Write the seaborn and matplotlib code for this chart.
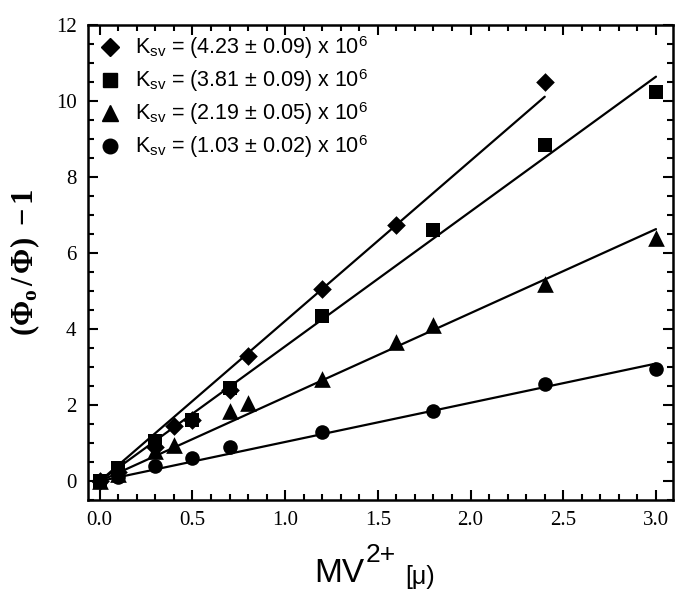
import numpy as np
import pandas as pd
import seaborn as sns
import matplotlib.pyplot as plt
from matplotlib.ticker import MultipleLocator

# concentration (x) and (Phi0/Phi)-1 (y) for each series
x_diamond = [0.0, 0.1, 0.3, 0.4, 0.5, 0.7, 0.8, 1.2, 1.6, 2.4]
y_diamond = [0.0, 0.25, 0.9, 1.45, 1.6, 2.4, 3.3, 5.05, 6.75, 10.5]

x_square = [0.0, 0.1, 0.3, 0.5, 0.7, 1.2, 1.8, 2.4, 3.0]
y_square = [0.0, 0.35, 1.05, 1.6, 2.45, 4.35, 6.6, 8.85, 10.25]

x_triangle = [0.0, 0.1, 0.3, 0.4, 0.7, 0.8, 1.2, 1.6, 1.8, 2.4, 3.0]
y_triangle = [0.0, 0.2, 0.8, 0.95, 1.85, 2.05, 2.7, 3.65, 4.1, 5.2, 6.4]

x_circle = [0.0, 0.1, 0.3, 0.5, 0.7, 1.2, 1.8, 2.4, 3.0]
y_circle = [0.0, 0.1, 0.4, 0.6, 0.9, 1.3, 1.85, 2.55, 2.95]

labels = ['4.23 ± 0.09', '3.81 ± 0.09', '2.19 ± 0.05', '1.03 ± 0.02']

sns.set_style('ticks')
plt.rcParams['mathtext.fontset'] = 'custom'
plt.rcParams['mathtext.rm'] = 'Liberation Serif'
plt.rcParams['mathtext.bf'] = 'Liberation Serif:bold'
plt.rcParams['mathtext.it'] = 'Liberation Serif:italic'
plt.rcParams['mathtext.sf'] = 'Liberation Sans'
plt.rcParams['font.family'] = ['Liberation Sans', 'DejaVu Sans']
for key in ['text.color', 'axes.labelcolor', 'xtick.color', 'ytick.color',
            'axes.edgecolor']:
    plt.rcParams[key] = 'black'

fig = plt.figure(figsize=(6.85, 5.99), dpi=100)
ax = fig.add_axes([0.128, 0.165, 0.854, 0.793])

series = [
    (x_diamond, y_diamond, 'D', 9.5),
    (x_square, y_square, 's', 9.5),
    (x_triangle, y_triangle, '^', 12),
    (x_circle, y_circle, 'o', 10.5),
]

handles = []
for (xs, ys, mk, ms), lab in zip(series, labels):
    df = pd.DataFrame({'x': xs, 'y': ys})
    # straight-line fit through the origin
    xa = np.array(xs)
    ya = np.array(ys)
    k = (xa * ya).sum() / (xa * xa).sum()
    fit = pd.DataFrame({'x': [0.0, xa.max()], 'y': [0.0, k * xa.max()]})
    sns.lineplot(data=fit, x='x', y='y', color='black', linewidth=1.6, ax=ax)
    sns.scatterplot(data=df, x='x', y='y', marker=mk, s=ms ** 2, color='black',
                    edgecolor='black', linewidth=0, ax=ax, zorder=3)
    h, = ax.plot([], [], linestyle='none', marker=mk, markersize=ms,
                 color='black')
    handles.append((h, r'K$_{\mathsf{sv}}$ = (' + lab + r') x 10$^{\mathsf{6}}$'))

leg = ax.legend([h for h, _ in handles], [t for _, t in handles], loc='upper left',
                frameon=False, fontsize=15.5, handletextpad=0.55, labelspacing=0.3,
                borderaxespad=0.3, handlelength=1.2, borderpad=0.15)

ax.set_xlim(-0.065, 3.09)
ax.set_ylim(-0.5, 12)
ax.xaxis.set_major_locator(MultipleLocator(0.5))
ax.xaxis.set_minor_locator(MultipleLocator(0.1))
ax.yaxis.set_major_locator(MultipleLocator(2))
ax.yaxis.set_minor_locator(MultipleLocator(0.5))
ax.tick_params(which='both', direction='in', top=True, right=True, width=1.5)
ax.tick_params(which='major', length=7)
ax.tick_params(which='minor', length=4)
for lab in ax.get_xticklabels() + ax.get_yticklabels():
    lab.set_fontfamily('Liberation Serif')
    lab.set_fontsize(15)
ax.xaxis.set_tick_params(pad=8)
ax.yaxis.set_tick_params(pad=8)
for sp in ax.spines.values():
    sp.set_linewidth(1.8)
    sp.set_visible(True)

# x label built from pieces: MV, raised 2+, then [μ)
ax.set_xlabel('')
t1 = fig.text(314 / 685, 1 - 582 / 599, 'MV', fontsize=24, ha='left', va='baseline')
t2 = ax.annotate('2+', xy=(1, 0), xycoords=t1, xytext=(1, 16),
                 textcoords='offset points', fontsize=19, ha='left', va='bottom')
t3 = ax.annotate('[μ)', xy=(1, 0), xycoords=t2, xytext=(7, -16),
                 textcoords='offset points', fontsize=18, ha='left', va='bottom')
ax.set_ylabel(r'$\mathbf{(\Phi_o\,/\,\Phi)\ -1}$', fontsize=22, labelpad=10)

fig.savefig('out.png', dpi=100)
